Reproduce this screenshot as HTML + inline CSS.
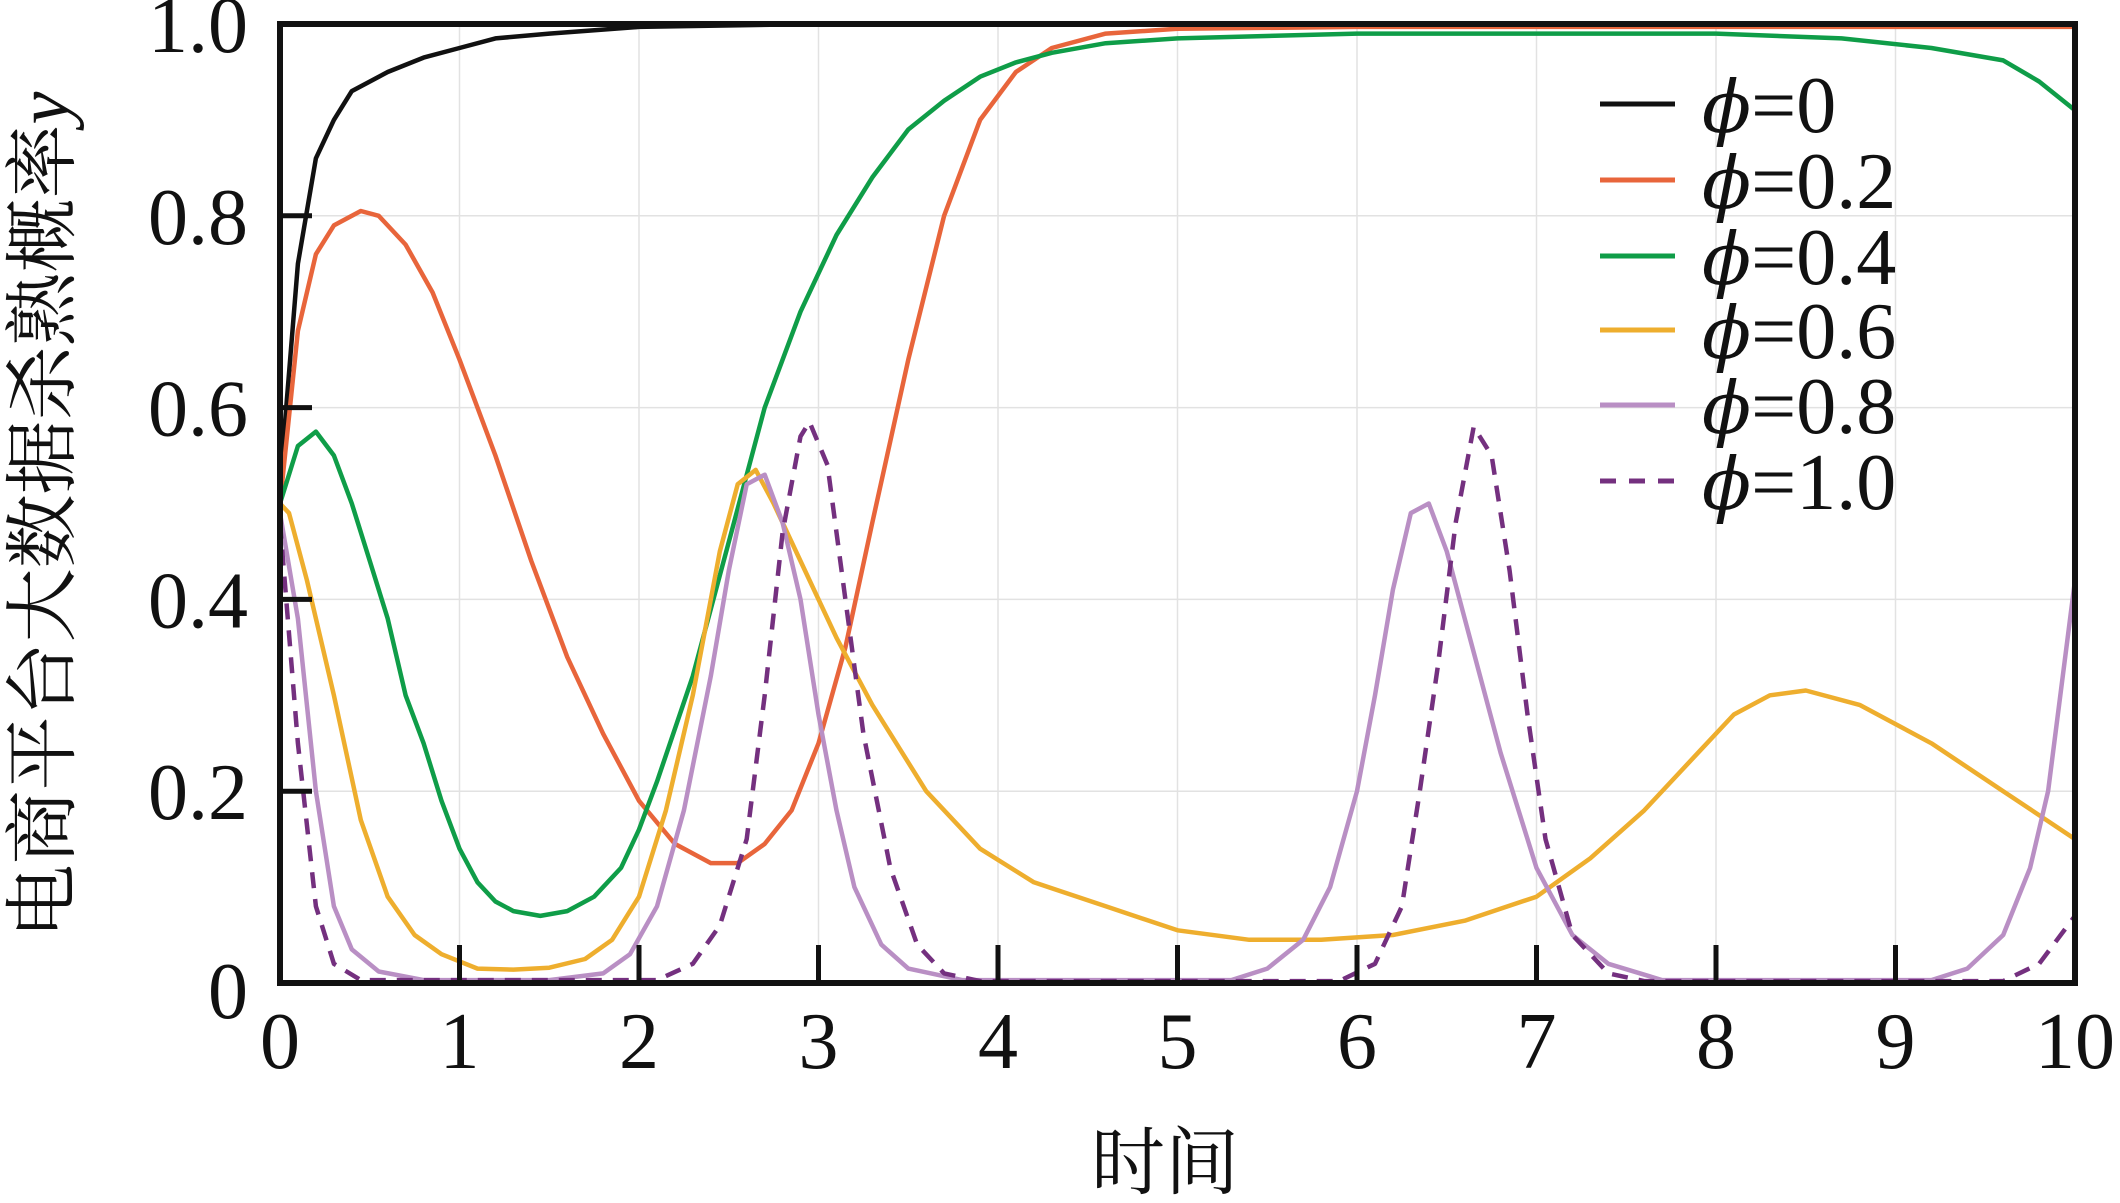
<!DOCTYPE html>
<html><head><meta charset="utf-8"><style>
html,body{margin:0;padding:0;background:#fff;}
svg{display:block;}
text{font-family:"Liberation Serif","Noto Serif CJK SC",serif;fill:#111;}
</style></head><body>
<svg id="chart" width="2120" height="1203" viewBox="0 0 2120 1203" xmlns="http://www.w3.org/2000/svg">
<g id="grid"></g>
<g id="series"></g>
<g id="axes"></g>
<g id="legend"></g>
<text x="1165" y="1188" font-size="74" text-anchor="middle">时间</text>
<text transform="translate(68,515) rotate(-90)" font-size="74" text-anchor="middle">电商平台大数据杀熟概率<tspan font-style="italic">y</tspan></text>
</svg>
<script>
const xTicks=[0,1,2,3,4,5,6,7,8,9,10];
const yTicks=[0,0.2,0.4,0.6,0.8,1.0];
const yTickLabels=["0","0.2","0.4","0.6","0.8","1.0"];
const seriesNames=["φ=0","φ=0.2","φ=0.4","φ=0.6","φ=0.8","φ=1.0"];
const seriesColors=["#111111","#e8653b","#0f9d48","#eeae2e","#b98fc4","#74307f"];
const s0=[[0,0.52],[0.1,0.75],[0.2,0.86],[0.3,0.9],[0.4,0.93],[0.6,0.95],[0.8,0.965],[1,0.975],[1.2,0.985],[1.5,0.99],[2,0.997],[3,1],[10,1]];
const s1=[[0,0.5],[0.1,0.68],[0.2,0.76],[0.3,0.79],[0.45,0.805],[0.55,0.8],[0.7,0.77],[0.85,0.72],[1,0.65],[1.2,0.55],[1.4,0.44],[1.6,0.34],[1.8,0.26],[2,0.19],[2.2,0.145],[2.4,0.125],[2.55,0.125],[2.7,0.145],[2.85,0.18],[3,0.25],[3.15,0.35],[3.3,0.48],[3.5,0.65],[3.7,0.8],[3.9,0.9],[4.1,0.95],[4.3,0.975],[4.6,0.99],[5,0.995],[6,0.997],[10,0.997]];
const s2=[[0,0.5],[0.1,0.56],[0.2,0.575],[0.3,0.55],[0.4,0.5],[0.5,0.44],[0.6,0.38],[0.7,0.3],[0.8,0.25],[0.9,0.19],[1,0.14],[1.1,0.105],[1.2,0.085],[1.3,0.075],[1.45,0.07],[1.6,0.075],[1.75,0.09],[1.9,0.12],[2,0.16],[2.1,0.21],[2.3,0.32],[2.5,0.46],[2.7,0.6],[2.9,0.7],[3.1,0.78],[3.3,0.84],[3.5,0.89],[3.7,0.92],[3.9,0.945],[4.1,0.96],[4.3,0.97],[4.6,0.98],[5,0.985],[6,0.99],[7,0.99],[8,0.99],[8.7,0.985],[9.2,0.975],[9.6,0.962],[9.8,0.94],[10,0.91]];
const s3=[[0,0.5],[0.05,0.49],[0.15,0.42],[0.3,0.3],[0.45,0.17],[0.6,0.09],[0.75,0.05],[0.9,0.03],[1.1,0.015],[1.3,0.014],[1.5,0.016],[1.7,0.025],[1.85,0.045],[2,0.09],[2.15,0.18],[2.3,0.3],[2.45,0.45],[2.55,0.52],[2.65,0.535],[2.75,0.5],[2.9,0.44],[3.1,0.36],[3.3,0.29],[3.6,0.2],[3.9,0.14],[4.2,0.105],[4.6,0.08],[5,0.055],[5.4,0.045],[5.8,0.045],[6.2,0.05],[6.6,0.065],[7,0.09],[7.3,0.13],[7.6,0.18],[7.9,0.24],[8.1,0.28],[8.3,0.3],[8.5,0.305],[8.8,0.29],[9.2,0.25],[9.6,0.2],[10,0.15]];
const s4=[[0,0.49],[0.1,0.38],[0.2,0.2],[0.3,0.08],[0.4,0.035],[0.55,0.012],[0.8,0.003],[1.5,0.003],[1.8,0.01],[1.95,0.03],[2.1,0.08],[2.25,0.18],[2.4,0.32],[2.5,0.43],[2.6,0.52],[2.7,0.53],[2.8,0.48],[2.9,0.4],[3,0.28],[3.1,0.18],[3.2,0.1],[3.35,0.04],[3.5,0.015],[3.8,0.003],[5.3,0.003],[5.5,0.015],[5.7,0.045],[5.85,0.1],[6,0.2],[6.1,0.3],[6.2,0.41],[6.3,0.49],[6.4,0.5],[6.5,0.45],[6.6,0.38],[6.8,0.24],[7,0.12],[7.2,0.05],[7.4,0.02],[7.7,0.003],[9.2,0.003],[9.4,0.015],[9.6,0.05],[9.75,0.12],[9.85,0.2],[10,0.42]];
const s5=[[0,0.48],[0.1,0.25],[0.2,0.08],[0.3,0.02],[0.45,0.003],[2.1,0.003],[2.3,0.02],[2.45,0.06],[2.6,0.15],[2.7,0.3],[2.8,0.47],[2.9,0.57],[2.95,0.585],[3.05,0.54],[3.15,0.4],[3.25,0.26],[3.4,0.12],[3.55,0.04],[3.7,0.01],[3.9,0.002],[5.9,0.002],[6.1,0.02],[6.25,0.08],[6.35,0.2],[6.45,0.33],[6.55,0.48],[6.65,0.58],[6.75,0.55],[6.85,0.43],[6.95,0.28],[7.05,0.15],[7.2,0.05],[7.4,0.01],[7.6,0.002],[9.6,0.002],[9.8,0.02],[10,0.07]];
const allSeries=[s0,s1,s2,s3,s4,s5];

const NS="http://www.w3.org/2000/svg";
const L=280,R=2075,T=24,B=983;
function sx(v){return L+(v-0)/(10-0)*(R-L);}
function sy(v){return B-(v-0)/(1-0)*(B-T);}
function mk(tag,attrs,parent){const e=document.createElementNS(NS,tag);for(const k in attrs)e.setAttribute(k,attrs[k]);parent.appendChild(e);return e;}
const grid=document.getElementById('grid'),axes=document.getElementById('axes'),ser=document.getElementById('series'),leg=document.getElementById('legend');

xTicks.forEach(t=>{
  const g=mk('line',{x1:sx(t),x2:sx(t),y1:T,y2:B,stroke:'#e2e2e2','stroke-width':1.5},grid);
  
  
  const tk=mk('line',{x1:sx(t),x2:sx(t),y1:B,y2:B-38,stroke:'#111','stroke-width':5},axes);
  
  
  const lb=mk('text',{x:sx(t),y:1068,'font-size':80,'text-anchor':'middle'},axes);
  lb.textContent=String(t);
  
  
});
yTicks.forEach((t,i)=>{
  const g=mk('line',{x1:L,x2:R,y1:sy(t),y2:sy(t),stroke:'#e2e2e2','stroke-width':1.5},grid);
  
  
  const tk=mk('line',{x1:L,x2:L+32,y1:sy(t),y2:sy(t),stroke:'#111','stroke-width':5},axes);
  
  
  const lb=mk('text',{x:248,y:(t===0?sy(t)+35:sy(t)+28),'font-size':80,'text-anchor':'end'},axes);
  lb.textContent=yTickLabels[i];
  
  
});

allSeries.forEach((s,i)=>{
  const d=s.map((p,j)=>(j?'L':'M')+sx(p[0]).toFixed(1)+' '+sy(p[1]).toFixed(1)).join(' ');
  const attrs={d:d,fill:'none',stroke:seriesColors[i],'stroke-width':4.5,'stroke-linejoin':'round'};
  if(i===5)attrs['stroke-dasharray']='16 11';
  const p=mk('path',attrs,ser);
  
  
});

const frame=mk('rect',{x:L,y:T,width:R-L,height:B-T,fill:'none',stroke:'#111','stroke-width':6},axes);



const legY=[104,180,256,330,405,481];
seriesNames.forEach((n,i)=>{
  const ln=mk('line',{x1:1600,x2:1675,y1:legY[i],y2:legY[i],stroke:seriesColors[i],'stroke-width':5},leg);
  if(i===5)ln.setAttribute('stroke-dasharray','16 13');
  
  
  const tx=mk('text',{x:1702,y:legY[i]+28,'font-size':80},leg);
  const ph=mk('tspan',{'font-style':'italic','font-family':'"DejaVu Serif", serif','font-size':72},tx);
  ph.textContent='ϕ';
  const rest=mk('tspan',{'font-family':'"Liberation Serif", serif'},tx);
  rest.textContent=n.slice(1);
  
  
});
</script>
</body></html>
